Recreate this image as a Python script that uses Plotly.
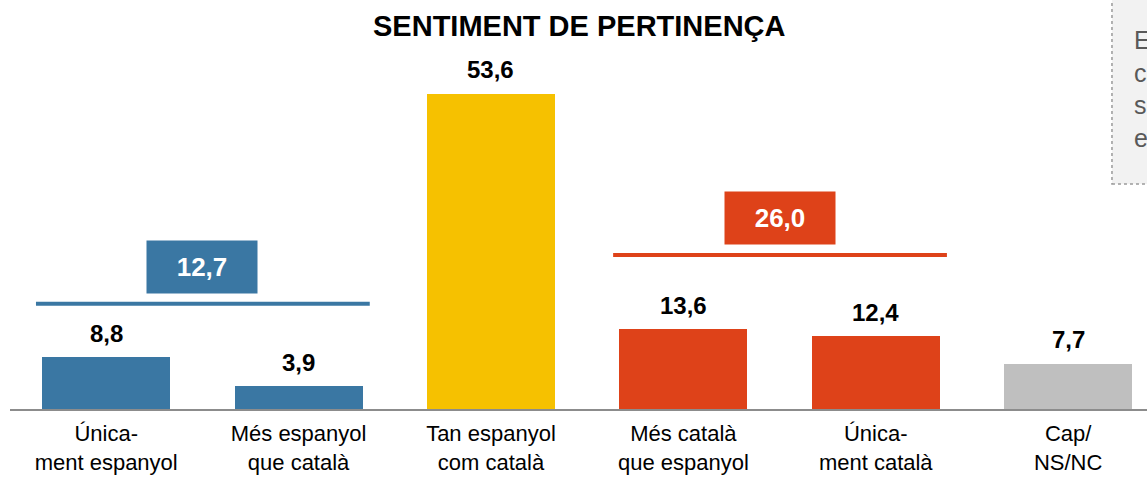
import plotly.graph_objects as go

# ---- data ----
categories = ["Única-<br>ment espanyol", "Més espanyol<br>que català", "Tan espanyol<br>com català",
              "Més català<br>que espanyol", "Única-<br>ment català", "Cap/<br>NS/NC"]
values = [8.8, 3.9, 53.6, 13.6, 12.4, 7.7]
group_labels = ["12,7", "26,0"]
group_members = [[0, 1], [3, 4]]
title_text = "SENTIMENT DE PERTINENÇA"
note_lines = ["Els", "catalans", "se senten", "espanyols"]

# ---- styles ----
BLUE = "#3a77a3"
YELLOW = "#f6c100"
RED = "#de4219"
GRAY = "#bfbfbf"
bar_colors = [BLUE, BLUE, YELLOW, RED, RED, GRAY]
group_colors = [BLUE, RED]
group_line_y = [17.9, 26.2]   # layout heights of the bracket lines (axis units)
FONT = "Arial, Liberation Sans, sans-serif"

fig = go.Figure()
fig.add_trace(go.Bar(
    x=list(range(len(categories))), y=values,
    marker=dict(color=bar_colors, line=dict(width=0)),
    width=0.665, hoverinfo="skip",
))

fmt = lambda v: f"{v:.1f}".replace(".", ",")
annotations = []
for i, v in enumerate(values):
    annotations.append(dict(x=i, y=v, xref="x", yref="y", text=f"<b>{fmt(v)}</b>",
                            showarrow=False, yanchor="middle", yshift=24,
                            font=dict(family=FONT, size=24, color="black")))

shapes = []
for members, lab, col, ly in zip(group_members, group_labels, group_colors, group_line_y):
    x0, x1 = members[0] - 0.365, members[-1] + 0.37
    shapes.append(dict(type="line", xref="x", yref="y", x0=x0, x1=x1, y0=ly, y1=ly,
                       line=dict(color=col, width=4)))
    mid = (members[0] + members[-1]) / 2
    annotations.append(dict(x=mid, y=ly, xref="x", yref="y", text=f"<b>{lab}</b>",
                            showarrow=False, yanchor="middle", yshift=37,
                            width=110, height=52, bgcolor=col, borderpad=0,
                            font=dict(family=FONT, size=26, color="white")))

# title
annotations.append(dict(x=0.5013, y=0.9364, xref="paper", yref="paper",
                        text=f"<b>{title_text}</b>", showarrow=False,
                        xanchor="center", yanchor="middle",
                        font=dict(family=FONT, size=29, color="black")))

# note box (partly outside view)
shapes.append(dict(type="rect", xref="paper", yref="paper", x0=0.9692, x1=1.1, y0=0.55, y1=1.2,
                   fillcolor="#f2f2f2", line=dict(color="#9a9a9a", width=1.5, dash="dot"),
                   layer="below"))
annotations.append(dict(x=0.9868, y=0.941, xref="paper", yref="paper",
                        text="<br>".join(note_lines), showarrow=False, align="left",
                        xanchor="left", yanchor="top",
                        font=dict(family=FONT, size=25, color="#595959")))

fig.update_layout(
    width=1147, height=478,
    margin=dict(l=10, r=0, t=0, b=69, autoexpand=False),
    paper_bgcolor="white", plot_bgcolor="white",
    showlegend=False, bargap=0,
    annotations=annotations, shapes=shapes,
    xaxis=dict(range=[-0.5, 5.41], tickvals=list(range(len(categories))), ticktext=categories,
               showline=True, linecolor="#8c8c8c", linewidth=2, showgrid=False, zeroline=False,
               ticks="", ticklabelstandoff=4, automargin=False,
               tickfont=dict(family=FONT, size=22, color="black"), fixedrange=True),
    yaxis=dict(range=[0, 69.56], visible=False, showgrid=False, zeroline=False,
               automargin=False, fixedrange=True),
)

fig.write_html("out.html", config={"displayModeBar": False},
               post_script="document.body.style.margin='0';document.body.style.overflow='hidden';")
